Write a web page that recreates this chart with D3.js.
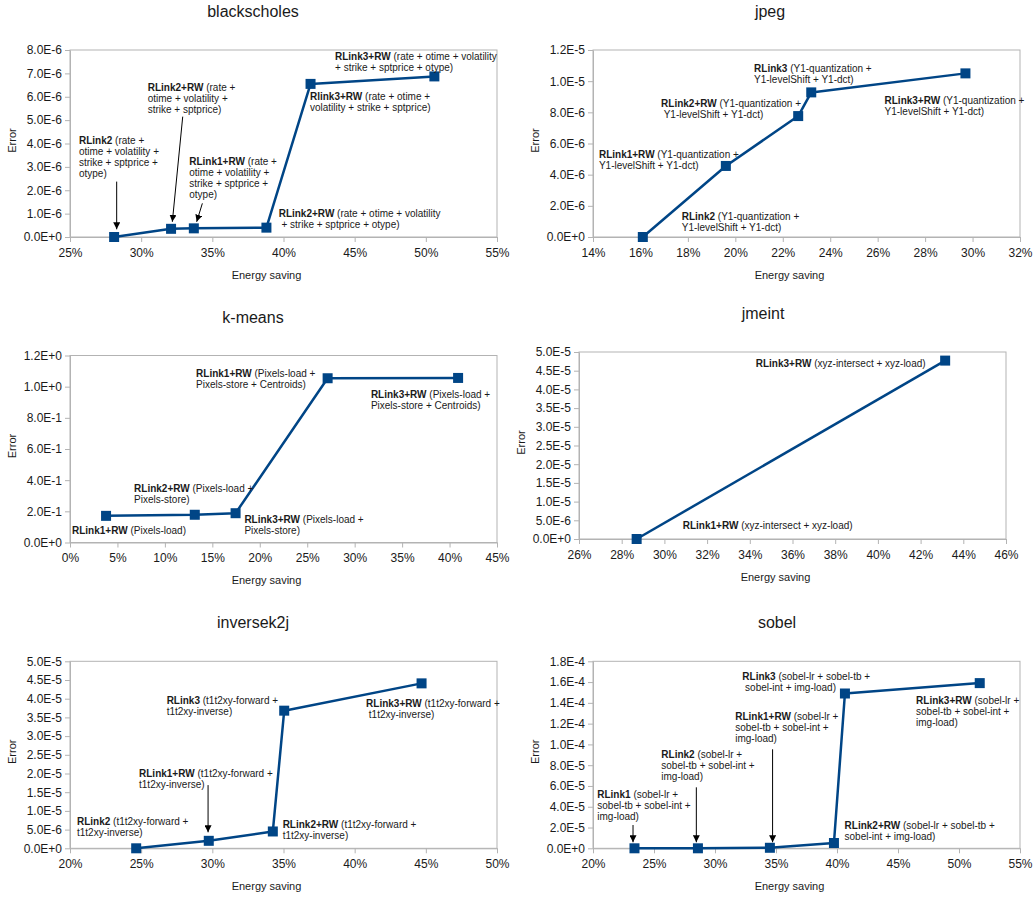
<!DOCTYPE html>
<html>
<head>
<meta charset="utf-8">
<script src="https://cdn.jsdelivr.net/npm/d3@7"></script>
<style>
body { margin: 0; background: #fff; }
text { font-family: "Liberation Sans", Arial, sans-serif; }
.note { white-space: pre; }
</style>
</head>
<body>
<svg id="chart" width="1035" height="898"></svg>
<script>
// values (energy saving in %, error)
var blackscholesSaving = [28.1, 32.1, 33.7, 38.8, 41.9, 50.6];
var blackscholesError = [0, 0.35e-6, 0.37e-6, 0.40e-6, 6.55e-6, 6.87e-6];
var blackscholesXTicks = [25, 30, 35, 40, 45, 50, 55];
var blackscholesYTicks = [0, 1e-6, 2e-6, 3e-6, 4e-6, 5e-6, 6e-6, 7e-6, 8e-6];

var jpegSaving = [16.1, 19.6, 22.65, 23.2, 29.7];
var jpegError = [0, 4.56e-6, 7.76e-6, 9.28e-6, 1.05e-5];
var jpegXTicks = [14, 16, 18, 20, 22, 24, 26, 28, 30, 32];
var jpegYTicks = [0, 2e-6, 4e-6, 6e-6, 8e-6, 1e-5, 1.2e-5];

var kmeansSaving = [3.8, 13.15, 17.45, 27.15, 40.9];
var kmeansError = [0.171, 0.178, 0.188, 1.054, 1.056];
var kmeansXTicks = [0, 5, 10, 15, 20, 25, 30, 35, 40, 45];
var kmeansYTicks = [0, 0.2, 0.4, 0.6, 0.8, 1.0, 1.2];

var jmeintSaving = [28.7, 43.15];
var jmeintError = [0, 4.77e-5];
var jmeintXTicks = [26, 28, 30, 32, 34, 36, 38, 40, 42, 44, 46];
var jmeintYTicks = [0, 5e-6, 1e-5, 1.5e-5, 2e-5, 2.5e-5, 3e-5, 3.5e-5, 4e-5, 4.5e-5, 5e-5];

var inversek2jSaving = [24.65, 29.75, 34.25, 35.05, 44.7];
var inversek2jError = [0, 2.0e-6, 4.5e-6, 3.68e-5, 4.41e-5];
var inversek2jXTicks = [20, 25, 30, 35, 40, 45, 50];
var inversek2jYTicks = [0, 5e-6, 1e-5, 1.5e-5, 2e-5, 2.5e-5, 3e-5, 3.5e-5, 4e-5, 4.5e-5, 5e-5];

var sobelSaving = [23.4, 28.6, 34.5, 39.75, 40.65, 51.7];
var sobelError = [0, 0, 0.5e-6, 5.1e-6, 1.49e-4, 1.59e-4];
var sobelXTicks = [20, 25, 30, 35, 40, 45, 50, 55];
var sobelYTicks = [0, 2e-5, 4e-5, 6e-5, 8e-5, 1e-4, 1.2e-4, 1.4e-4, 1.6e-4, 1.8e-4];

// annotations: [bold, rest of first line, more lines...], anchored in data units
var blackscholesNotes = [
    ["RLink3+RW", " (rate + otime + volatility", "+ strike + sptprice + otype)"],
    ["RLink2+RW", " (rate +", "otime + volatility +", "strike + sptprice)"],
    ["Rlink3+RW", " (rate + otime +", "volatility + strike + sptprice)"],
    ["RLink2", " (rate +", "otime + volatility +", "strike + sptprice +", "otype)"],
    ["RLink1+RW", " (rate +", "otime + volatility +", "strike + sptprice +", "otype)"],
    ["RLink2+RW", " (rate + otime + volatility", " + strike + sptprice + otype)"]
];
var blackscholesNoteAt = [[43.62, 7.71e-6], [30.46, 6.39e-6], [41.86, 6.0e-6], [25.63, 4.12e-6], [33.38, 3.25e-6], [39.66, 1.0e-6]];
var blackscholesArrows = [[28.28, 2.37e-6, 28.28, 0.33e-6], [32.92, 5.15e-6, 32.19, 0.65e-6], [34.30, 1.44e-6, 33.90, 0.65e-6]];

var jpegNotes = [
    ["RLink3", " (Y1-quantization +", "Y1-levelShift + Y1-dct)"],
    ["RLink2+RW", " (Y1-quantization +", " Y1-levelShift + Y1-dct)"],
    ["RLink3+RW", " (Y1-quantization +", "Y1-levelShift + Y1-dct)"],
    ["RLink1+RW", " (Y1-quantization +", "Y1-levelShift + Y1-dct)"],
    ["RLink2", " (Y1-quantization +", "Y1-levelShift + Y1-dct)"]
];
var jpegNoteAt = [[20.79, 1.081e-5], [16.87, 8.56e-6], [26.29, 8.77e-6], [14.25, 5.31e-6], [17.74, 1.33e-6]];
var jpegArrows = [];

var kmeansNotes = [
    ["RLink1+RW", " (Pixels-load +", "Pixels-store + Centroids)"],
    ["RLink3+RW", " (Pixels-load +", "Pixels-store + Centroids)"],
    ["RLink2+RW", " (Pixels-load +", "Pixels-store)"],
    ["RLink3+RW", " (Pixels-load +", "Pixels-store)"],
    ["RLink1+RW", " (Pixels-load)"]
];
var kmeansNoteAt = [[13.29, 1.082], [31.71, 0.952], [6.75, 0.348], [18.38, 0.150], [0.21, 0.079]];
var kmeansArrows = [];

var jmeintNotes = [
    ["RLink3+RW", " (xyz-intersect + xyz-load)"],
    ["RLink1+RW", " (xyz-intersect + xyz-load)"]
];
var jmeintNoteAt = [[34.28, 4.69e-5], [30.86, 3.66e-6]];
var jmeintArrows = [];

var inversek2jNotes = [
    ["RLink3", " (t1t2xy-forward +", "t1t2xy-inverse)"],
    ["RLink3+RW", " (t1t2xy-forward +", " t1t2xy-inverse)"],
    ["RLink1+RW", " (t1t2xy-forward +", "t1t2xy-inverse)"],
    ["RLink2", " (t1t2xy-forward +", "t1t2xy-inverse)"],
    ["RLink2+RW", " (t1t2xy-forward +", "t1t2xy-inverse)"]
];
var inversek2jNoteAt = [[26.79, 3.94e-5], [40.80, 3.88e-5], [24.85, 2.01e-5], [20.49, 7.22e-6], [34.94, 6.23e-6]];
var inversek2jArrows = [[29.70, 1.69e-5, 29.70, 4.28e-6]];

var sobelNotes = [
    ["RLink3", " (sobel-lr + sobel-tb +", " sobel-int + img-load)"],
    ["RLink3+RW", " (sobel-lr +", "sobel-tb + sobel-int +", "img-load)"],
    ["RLink1+RW", " (sobel-lr +", "sobel-tb + sobel-int +", "img-load)"],
    ["RLink2", " (sobel-lr +", "sobel-tb + sobel-int +", "img-load)"],
    ["RLink1", " (sobel-lr +", "sobel-tb + sobel-int +", "img-load)"],
    ["RLink2+RW", " (sobel-lr + sobel-tb +", "sobel-int + img-load)"]
];
var sobelNoteAt = [[32.24, 1.652e-4], [46.48, 1.421e-4], [31.66, 1.267e-4], [25.60, 9.01e-5], [20.35, 5.20e-5], [40.62, 2.15e-5]];
var sobelArrows = [[23.28, 2.24e-5, 23.28, 5.8e-6], [28.47, 5.87e-5, 28.47, 5.8e-6], [34.72, 9.53e-5, 34.72, 5.8e-6]];

var plotW = 427, plotH = 187;
var lineColor = "#004586";
var frameColor = "#b3b3b3";
var textColor = "#1a1a1a";

var panels = [
    {title: "blackscholes", saving: blackscholesSaving, error: blackscholesError, xTicks: blackscholesXTicks, yTicks: blackscholesYTicks,
     notes: blackscholesNotes, noteAt: blackscholesNoteAt, arrows: blackscholesArrows, left: 70, top: 50, titleX: 253},
    {title: "jpeg", saving: jpegSaving, error: jpegError, xTicks: jpegXTicks, yTicks: jpegYTicks,
     notes: jpegNotes, noteAt: jpegNoteAt, arrows: jpegArrows, left: 593, top: 50, titleX: 770},
    {title: "k-means", saving: kmeansSaving, error: kmeansError, xTicks: kmeansXTicks, yTicks: kmeansYTicks,
     notes: kmeansNotes, noteAt: kmeansNoteAt, arrows: kmeansArrows, left: 70, top: 355.5, titleX: 253},
    {title: "jmeint", saving: jmeintSaving, error: jmeintError, xTicks: jmeintXTicks, yTicks: jmeintYTicks,
     notes: jmeintNotes, noteAt: jmeintNoteAt, arrows: jmeintArrows, left: 579, top: 352, titleX: 763},
    {title: "inversek2j", saving: inversek2jSaving, error: inversek2jError, xTicks: inversek2jXTicks, yTicks: inversek2jYTicks,
     notes: inversek2jNotes, noteAt: inversek2jNoteAt, arrows: inversek2jArrows, left: 70, top: 661.3, titleX: 253},
    {title: "sobel", saving: sobelSaving, error: sobelError, xTicks: sobelXTicks, yTicks: sobelYTicks,
     notes: sobelNotes, noteAt: sobelNoteAt, arrows: sobelArrows, left: 593, top: 661.3, titleX: 777}
];

var svg = d3.select("#chart");
svg.append("rect").attr("width", 1035).attr("height", 898).attr("fill", "#fff");

svg.append("defs").append("marker")
    .attr("id", "arrowhead")
    .attr("markerUnits", "userSpaceOnUse")
    .attr("markerWidth", 8)
    .attr("markerHeight", 7)
    .attr("refX", 7)
    .attr("refY", 3.5)
    .attr("orient", "auto")
    .append("path")
    .attr("d", "M0,0 L7,3.5 L0,7 Z")
    .attr("fill", "#000");

function drawPanel(p) {
    var g = svg.append("g");
    var bottom = p.top + plotH;

    var x = d3.scaleLinear()
        .domain([p.xTicks[0], p.xTicks[p.xTicks.length - 1]])
        .range([p.left, p.left + plotW]);
    var y = d3.scaleLinear()
        .domain([0, p.yTicks[p.yTicks.length - 1]])
        .range([bottom, p.top]);

    // title
    g.append("text")
        .attr("x", p.titleX)
        .attr("y", p.top - 38.5)
        .attr("dy", "0.35em")
        .attr("text-anchor", "middle")
        .attr("font-size", "16px")
        .attr("fill", textColor)
        .text(p.title);

    // frame
    g.append("rect")
        .attr("x", p.left).attr("y", p.top)
        .attr("width", plotW).attr("height", plotH)
        .attr("fill", "none")
        .attr("stroke", frameColor);

    var yAxis = g.append("g")
        .attr("transform", "translate(" + p.left + ",0)")
        .call(d3.axisLeft(y).tickValues(p.yTicks).tickSize(5).tickSizeOuter(0).tickPadding(3)
            .tickFormat(function (d) { return d.toExponential(1).toUpperCase(); }));
    var xAxis = g.append("g")
        .attr("transform", "translate(0," + bottom + ")")
        .call(d3.axisBottom(x).tickValues(p.xTicks).tickSize(5).tickSizeOuter(0).tickPadding(6)
            .tickFormat(function (d) { return d + "%"; }));

    [yAxis, xAxis].forEach(function (a) {
        a.select(".domain").attr("stroke", frameColor);
        a.selectAll(".tick line").attr("stroke", frameColor);
        a.selectAll(".tick text")
            .attr("font-size", "12px")
            .attr("font-family", "'Liberation Sans', Arial, sans-serif")
            .attr("fill", textColor);
    });

    // axis titles
    g.append("text")
        .attr("x", p.left + plotW / 2 - 17)
        .attr("y", bottom + 38)
        .attr("dy", "0.35em")
        .attr("text-anchor", "middle")
        .attr("font-size", "11px")
        .attr("fill", textColor)
        .text("Energy saving");
    g.append("text")
        .attr("transform", "translate(" + (p.left - 58) + "," + (p.top + plotH / 2 - 3) + ") rotate(-90)")
        .attr("dy", "0.35em")
        .attr("text-anchor", "middle")
        .attr("font-size", "11px")
        .attr("fill", textColor)
        .text("Error");

    // series line
    var idx = d3.range(p.saving.length);
    var line = d3.line()
        .x(function (i) { return x(p.saving[i]); })
        .y(function (i) { return y(p.error[i]); });
    g.append("path")
        .datum(idx)
        .attr("d", line)
        .attr("fill", "none")
        .attr("stroke", lineColor)
        .attr("stroke-width", 2.5)
        .attr("stroke-linejoin", "round");

    g.selectAll(".pt")
        .data(idx)
        .enter().append("rect")
        .attr("class", "pt")
        .attr("x", function (i) { return x(p.saving[i]) - 5; })
        .attr("y", function (i) { return y(p.error[i]) - 5; })
        .attr("width", 10)
        .attr("height", 10)
        .attr("fill", lineColor);

    // arrows
    g.selectAll(".arrow")
        .data(p.arrows)
        .enter().append("line")
        .attr("class", "arrow")
        .attr("x1", function (a) { return x(a[0]); })
        .attr("y1", function (a) { return y(a[1]); })
        .attr("x2", function (a) { return x(a[2]); })
        .attr("y2", function (a) { return y(a[3]); })
        .attr("stroke", "#000")
        .attr("stroke-width", 1)
        .attr("marker-end", "url(#arrowhead)");

    // annotations
    p.notes.forEach(function (n, k) {
        var nx = x(p.noteAt[k][0]);
        var ny = y(p.noteAt[k][1]) + 3.5;
        var t = g.append("text")
            .attr("class", "note")
            .attr("x", nx)
            .attr("y", ny)
            .attr("font-size", "10px")
            .attr("fill", textColor);
        t.append("tspan").attr("font-weight", "bold").text(n[0]);
        t.append("tspan").text(n[1]);
        for (var j = 2; j < n.length; j++) {
            t.append("tspan").attr("x", nx).attr("dy", 11).text(n[j]);
        }
    });
}

panels.forEach(drawPanel);
</script>
</body>
</html>
